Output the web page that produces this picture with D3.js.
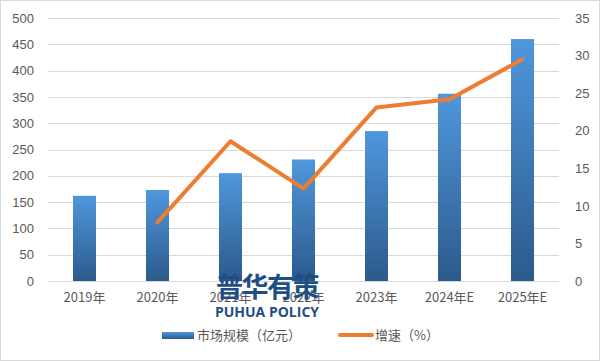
<!DOCTYPE html>
<html>
<head>
<meta charset="utf-8">
<script src="https://cdn.jsdelivr.net/npm/d3@7"></script>
<style>
  body { margin: 0; background: #fff; }
  svg text { font-family: "Noto Sans CJK SC", "Liberation Sans", sans-serif; }
</style>
</head>
<body>
<div id="chart"></div>
<script>
// chart data
var categories = ['2019年', '2020年', '2021年', '2022年', '2023年', '2024年E', '2025年E'];
var marketSize = [162, 173, 205, 231, 285, 356, 460];
var growth = [null, 7.8, 18.6, 12.3, 23.1, 24.2, 29.5];
var leftTicks = [0, 50, 100, 150, 200, 250, 300, 350, 400, 450, 500];
var rightTicks = [0, 5, 10, 15, 20, 25, 30, 35];
var legendLabels = ['市场规模（亿元）', '增速（%）'];

var W = 601, H = 361;
var margin = {top: 18, right: 42, bottom: 80, left: 48};
var width = W - margin.left - margin.right;
var height = H - margin.top - margin.bottom;

var svg = d3.select('#chart').append('svg')
  .attr('width', W)
  .attr('height', H);

// outer border
svg.append('rect')
  .attr('x', 0.5).attr('y', 0.5)
  .attr('width', W - 2).attr('height', H - 1)
  .attr('fill', '#fff')
  .attr('stroke', '#d9d9d9');

// bar gradient
var grad = svg.append('defs').append('linearGradient')
  .attr('id', 'barGrad')
  .attr('x1', 0).attr('y1', 0).attr('x2', 0).attr('y2', 1);
grad.append('stop').attr('offset', '0%').attr('stop-color', '#4f97dc');
grad.append('stop').attr('offset', '100%').attr('stop-color', '#2c5a8c');

var g = svg.append('g')
  .attr('transform', 'translate(' + margin.left + ',' + margin.top + ')');

var x = d3.scaleBand().domain(categories).range([0, width]).paddingInner(0.685).paddingOuter(0.3425);
var xc = function(d) { return x(d) + x.bandwidth() / 2; };
var yL = d3.scaleLinear().domain([0, 500]).range([height, 0]);
var yR = d3.scaleLinear().domain([0, 35]).range([height, 0]);

// gridlines
g.append('g').selectAll('line')
  .data(leftTicks)
  .enter().append('line')
    .attr('x1', 0).attr('x2', width)
    .attr('y1', function(d) { return Math.round(yL(d)) + 0.5; })
    .attr('y2', function(d) { return Math.round(yL(d)) + 0.5; })
    .attr('stroke', '#d9d9d9');

// left axis
var left = g.append('g')
  .call(d3.axisLeft(yL).tickValues(leftTicks).tickSize(0).tickPadding(14));
left.select('.domain').remove();
left.selectAll('text').attr('fill', '#595959').style('font-size', '13px').style('font-family', 'Liberation Sans, sans-serif');

// right axis
var right = g.append('g')
  .attr('transform', 'translate(' + width + ',0)')
  .call(d3.axisRight(yR).tickValues(rightTicks).tickSize(0).tickPadding(16));
right.select('.domain').remove();
right.selectAll('text').attr('fill', '#595959').style('font-size', '13px').style('font-family', 'Liberation Sans, sans-serif');

// bottom axis
var bottom = g.append('g')
  .attr('transform', 'translate(0,' + height + ')')
  .call(d3.axisBottom(x).tickSize(0).tickPadding(12));
bottom.select('.domain').remove();
bottom.selectAll('text').attr('fill', '#595959').style('font-size', '13px');

// bars
g.selectAll('.bar')
  .data(categories)
  .enter().append('rect')
    .attr('class', 'bar')
    .attr('x', function(d) { return x(d); })
    .attr('width', x.bandwidth())
    .attr('y', function(d, i) { return yL(marketSize[i]); })
    .attr('height', function(d, i) { return height - yL(marketSize[i]); })
    .attr('fill', 'url(#barGrad)');

// growth line
var line = d3.line()
  .defined(function(d) { return d.v != null; })
  .x(function(d) { return xc(d.c); })
  .y(function(d) { return yR(d.v); });

g.append('path')
  .datum(categories.map(function(c, i) { return {c: c, v: growth[i]}; }))
  .attr('d', line)
  .attr('fill', 'none')
  .attr('stroke', '#ed7d31')
  .attr('stroke-width', 4)
  .attr('stroke-linejoin', 'round')
  .attr('stroke-linecap', 'round');

// watermark
var wmX = xc(categories[2]) + (xc(categories[3]) - xc(categories[2])) / 2;
svg.append('text')
  .attr('x', margin.left + wmX).attr('y', 297)
  .attr('text-anchor', 'middle')
  .attr('fill', '#1f4e83')
  .style('font-size', '27px').style('font-weight', 'bold')
  .style('letter-spacing', '-1.5px')
  .text('普华有策');
svg.append('text')
  .attr('x', margin.left + wmX).attr('y', 317)
  .attr('text-anchor', 'middle')
  .attr('fill', '#1f4e83')
  .style('font-size', '14px').style('font-weight', 'bold')
  .style('font-family', 'Open Sans, sans-serif')
  .text('PUHUA POLICY');

// legend
var legend = svg.append('g').attr('transform', 'translate(0,335)');
legend.append('rect')
  .attr('x', 162).attr('y', -3).attr('width', 32).attr('height', 7)
  .attr('fill', 'url(#barGrad)');
legend.append('text')
  .attr('x', 197).attr('y', 5)
  .attr('fill', '#595959').style('font-size', '13px')
  .text(legendLabels[0]);
legend.append('line')
  .attr('x1', 340).attr('x2', 372).attr('y1', 0).attr('y2', 0)
  .attr('stroke', '#ed7d31').attr('stroke-width', 4).attr('stroke-linecap', 'round');
legend.append('text')
  .attr('x', 375).attr('y', 5)
  .attr('fill', '#595959').style('font-size', '13px')
  .text(legendLabels[1]);
</script>
</body>
</html>
